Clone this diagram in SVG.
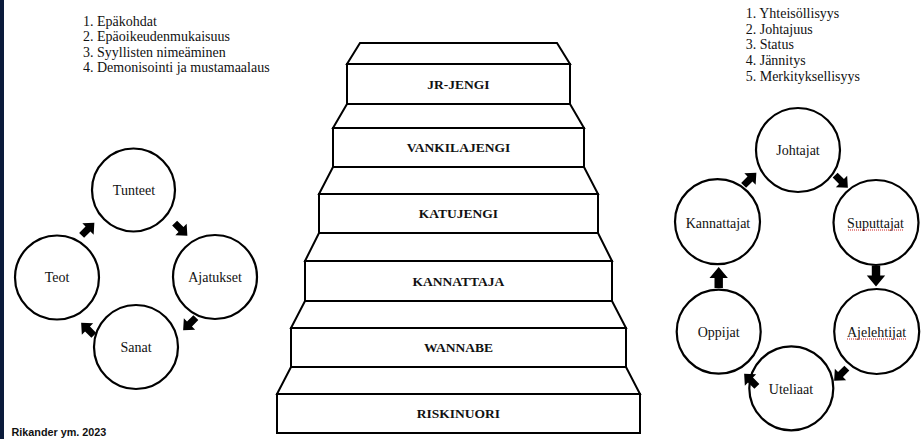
<svg xmlns="http://www.w3.org/2000/svg" xmlns:xlink="http://www.w3.org/1999/xlink" width="922" height="439" viewBox="0 0 922 439">
<style>
.bg{fill:#ffffff}
.strip{fill:#0b1b3b}
.list{font-size:14px;fill:#111}
.node circle{fill:#fff;stroke:#000;stroke-width:2.2}
.node text{font-size:14px;fill:#111;text-anchor:middle}
.step polygon,.step rect{fill:#fff;stroke:#000;stroke-width:2;stroke-linejoin:miter}
.step text{font-size:13.5px;font-weight:bold;fill:#111;text-anchor:middle}
.arr{fill:#000}
.spell{stroke:#d02020;stroke-width:1;stroke-dasharray:1 1;fill:none}
.cite{font-size:10.8px;font-weight:bold;fill:#111}
</style>
<defs>
<polygon id="ad" points="-9,-3.5 0,-3.5 0,-8 9,0 0,8 0,3.5 -9,3.5"/>
<polygon id="av" points="-10.5,-4.2 -0.5,-4.2 -0.5,-9.2 10.5,0 -0.5,9.2 -0.5,4.2 -10.5,4.2"/>
</defs>
<rect class="bg" x="0" y="0" width="922" height="439"/>
<rect class="strip" x="0" y="0" width="4" height="439"/>

<g id="list-left" class="list" font-family="Liberation Serif, serif">
<text x="83" y="26">1. Epäkohdat</text>
<text x="83" y="41.4">2. Epäoikeudenmukaisuus</text>
<text x="83" y="56.8">3. Syyllisten nimeäminen</text>
<text x="83" y="72.2">4. Demonisointi ja mustamaalaus</text>
</g>
<g id="list-right" class="list" font-family="Liberation Serif, serif">
<text x="745.7" y="17.7">1. Yhteisöllisyys</text>
<text x="745.7" y="33.5">2. Johtajuus</text>
<text x="745.7" y="49.3">3. Status</text>
<text x="745.7" y="65.1">4. Jännitys</text>
<text x="745.7" y="80.9">5. Merkityksellisyys</text>
</g>

<g font-family="Liberation Serif, serif">
<g id="step-jr" class="step">
<polygon points="360,43 557,43 570,64 347,64"/>
<rect x="347" y="64" width="223" height="40"/>
<text x="458.5" y="88.5">JR-JENGI</text>
</g>
<g id="step-vankila" class="step">
<polygon points="347,104 570,104 584,128 333,128"/>
<rect x="333" y="128" width="251" height="39"/>
<text x="458.5" y="152">VANKILAJENGI</text>
</g>
<g id="step-katu" class="step">
<polygon points="333,167 584,167 598,194 319,194"/>
<rect x="319" y="194" width="279" height="39"/>
<text x="458.5" y="218">KATUJENGI</text>
</g>
<g id="step-kannattaja" class="step">
<polygon points="319,233 598,233 612,261 305,261"/>
<rect x="305" y="261" width="307" height="40"/>
<text x="458.5" y="285.5">KANNATTAJA</text>
</g>
<g id="step-wannabe" class="step">
<polygon points="305,301 612,301 626,328 291,328"/>
<rect x="291" y="328" width="335" height="39"/>
<text x="458.5" y="352">WANNABE</text>
</g>
<g id="step-riskinuori" class="step">
<polygon points="291,367 626,367 640,394 277,394"/>
<rect x="277" y="394" width="363" height="39"/>
<text x="458.5" y="418">RISKINUORI</text>
</g>

<g id="n-tunteet" class="node"><circle cx="133.5" cy="190" r="41.5"/><text x="134" y="195">Tunteet</text></g>
<g id="n-ajatukset" class="node"><circle cx="215" cy="277" r="42"/><text x="215" y="282">Ajatukset</text></g>
<g id="n-sanat" class="node"><circle cx="136" cy="347" r="42"/><text x="136" y="352">Sanat</text></g>
<g id="n-teot" class="node"><circle cx="57" cy="277.5" r="42"/><text x="57" y="282">Teot</text></g>

<g id="n-johtajat" class="node"><circle cx="798" cy="150" r="42"/><text x="798" y="155">Johtajat</text></g>
<g id="n-suputtajat" class="node"><circle cx="876" cy="222.5" r="42.5"/><text x="875.5" y="228">Suputtajat</text>
<path class="spell" d="M848,230 H903"/></g>
<g id="n-ajelehtijat" class="node"><circle cx="876.7" cy="331.5" r="42.5"/><text x="876.5" y="336.5">Ajelehtijat</text>
<path class="spell" d="M847,339 H906"/></g>
<g id="n-uteliaat" class="node"><circle cx="791.3" cy="388.3" r="42"/><text x="791" y="393.5">Uteliaat</text></g>
<g id="n-oppijat" class="node"><circle cx="718.7" cy="331.7" r="42"/><text x="718.7" y="337">Oppijat</text></g>
<g id="n-kannattajat" class="node"><circle cx="717.5" cy="221.7" r="42.5"/><text x="718" y="227.5">Kannattajat</text></g>
</g>

<g id="connectors" class="arr">
<use xlink:href="#ad" transform="translate(88,229) rotate(-45)"/>
<use xlink:href="#ad" transform="translate(181,229.5) rotate(45)"/>
<use xlink:href="#ad" transform="translate(189.5,324) rotate(135)"/>
<use xlink:href="#ad" transform="translate(87.5,329) rotate(-135)"/>
<use xlink:href="#ad" transform="translate(750,179) rotate(-45)"/>
<use xlink:href="#ad" transform="translate(841.5,181.5) rotate(45)"/>
<use xlink:href="#av" transform="translate(876,276) rotate(90)"/>
<use xlink:href="#ad" transform="translate(840.5,374.5) rotate(135)"/>
<use xlink:href="#ad" transform="translate(750.5,380) rotate(-135)"/>
<use xlink:href="#av" transform="translate(718.7,277.5) rotate(-90)"/>
</g>

<text class="cite" x="11.5" y="436" font-family="Liberation Sans, Arial, sans-serif">Rikander ym. 2023</text>
</svg>
